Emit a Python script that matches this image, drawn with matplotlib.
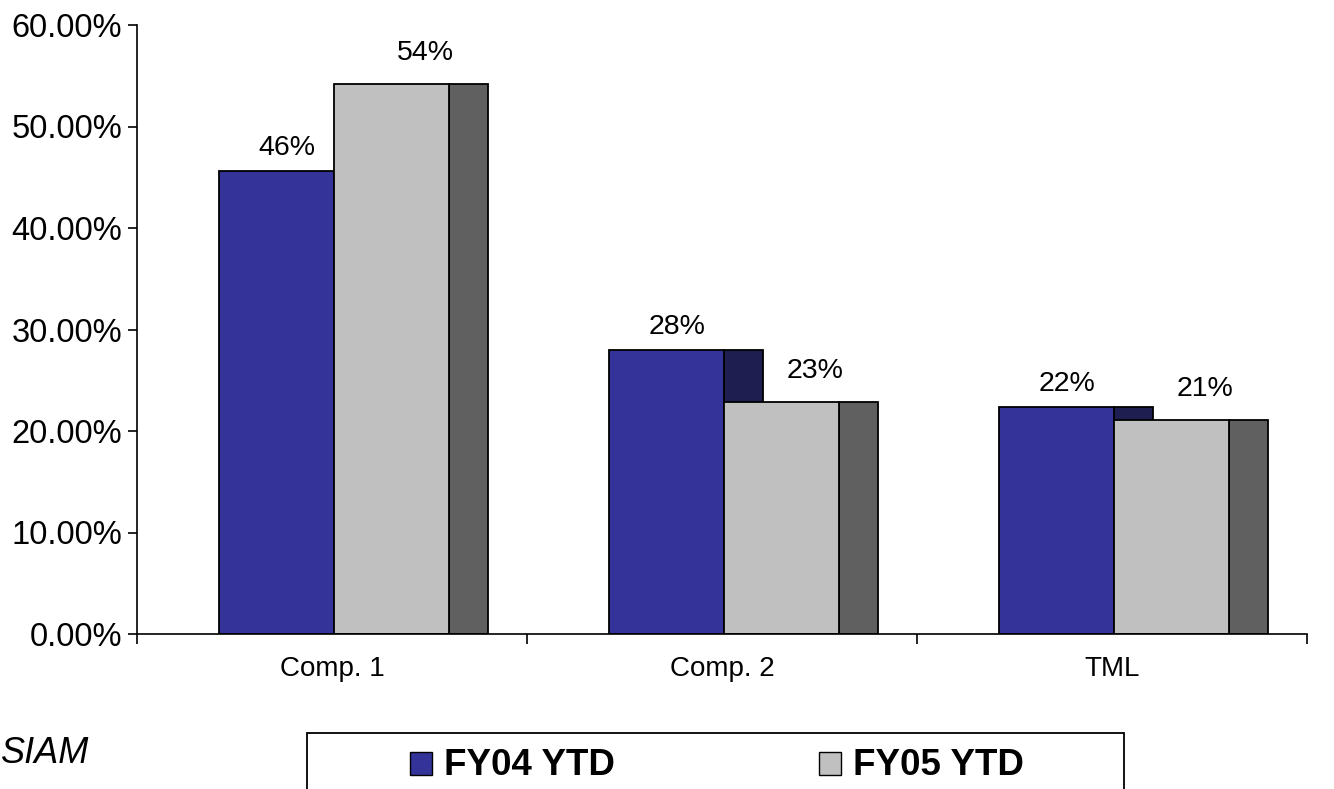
import matplotlib

matplotlib.use("Agg")
import matplotlib.pyplot as plt
from matplotlib.patches import Rectangle
from matplotlib.ticker import FuncFormatter, FixedLocator

plt.rcParams["font.family"] = ["Liberation Sans", "DejaVu Sans"]

CATEGORIES = ["Comp. 1", "Comp. 2", "TML"]
SERIES = ["FY04 YTD", "FY05 YTD"]
FY04 = [0.456, 0.28, 0.224]
FY05 = [0.542, 0.229, 0.211]
Y_TICKS = [0.0, 0.1, 0.2, 0.3, 0.4, 0.5, 0.6]

FRONT = ["#333399", "#c0c0c0"]
SIDE = ["#1e1e50", "#606060"]

# bar geometry inside one category slot (slot width = 1)
BAR_START = [0.21, 0.505]
BAR_W = 0.295
DEPTH = 0.1
LABEL_SHIFT = [0.026, 0.087]
LABEL_GAP = [11.5, 17.0]

fig = plt.figure(figsize=(13.34, 7.89), dpi=100)
ax = fig.add_axes([137 / 1334, 1 - 634 / 789, 1170 / 1334, 609 / 789])

for s, values in enumerate([FY04, FY05]):
    xs = [i + BAR_START[s] for i in range(len(CATEGORIES))]
    # side face first, front face on top of it
    ax.bar([x + BAR_W for x in xs], values, width=DEPTH, align="edge",
           color=SIDE[s], edgecolor="black", linewidth=1.3)
    ax.bar(xs, values, width=BAR_W, align="edge",
           color=FRONT[s], edgecolor="black", linewidth=1.3)
    for x, v in zip(xs, values):
        ax.annotate(f"{v:.0%}", (x + BAR_W / 2 + LABEL_SHIFT[s], v),
                    xytext=(0, LABEL_GAP[s]), textcoords="offset points",
                    ha="center", va="baseline", fontsize=20.5)

ax.set_xlim(0, 3)
ax.set_ylim(0, 0.6)
ax.spines["top"].set_visible(False)
ax.spines["right"].set_visible(False)
for sp in ("left", "bottom"):
    ax.spines[sp].set_linewidth(1.2)

ax.yaxis.set_major_locator(FixedLocator(Y_TICKS))
ax.yaxis.set_major_formatter(FuncFormatter(lambda v, _: f"{v * 100:.2f}%"))
ax.tick_params(axis="y", length=6.5, width=1.2, pad=4.3, labelsize=23.5)

ax.set_xticks([0, 1, 2, 3])
ax.set_xticklabels([])
ax.set_xticks([0.5, 1.5, 2.5], minor=True)
ax.set_xticklabels(CATEGORIES, minor=True)
ax.tick_params(axis="x", which="major", length=7.5, width=1.2)
ax.tick_params(axis="x", which="minor", length=0, pad=15.5, labelsize=20)

# source note in the lower left corner
fig.text(1 / 1334, 1 - 763 / 789, "SIAM", fontsize=26, style="italic",
         ha="left", va="baseline")

# legend box running off the bottom edge
fig.patches.append(Rectangle((307 / 1334, -0.05), (1124 - 307) / 1334,
                             0.05 + (789 - 733) / 789, transform=fig.transFigure,
                             facecolor="white", edgecolor="black", linewidth=1.3))
for name, color, sx in zip(SERIES, FRONT, [410, 819]):
    fig.patches.append(Rectangle((sx / 1334, 1 - 775 / 789), 22 / 1334, 23 / 789,
                                 transform=fig.transFigure, facecolor=color,
                                 edgecolor="black", linewidth=1.0))
    fig.text((sx + 34) / 1334, 1 - 775 / 789, name, fontsize=26.5,
             fontweight="bold", ha="left", va="baseline")

fig.savefig("out.png", dpi=100)
